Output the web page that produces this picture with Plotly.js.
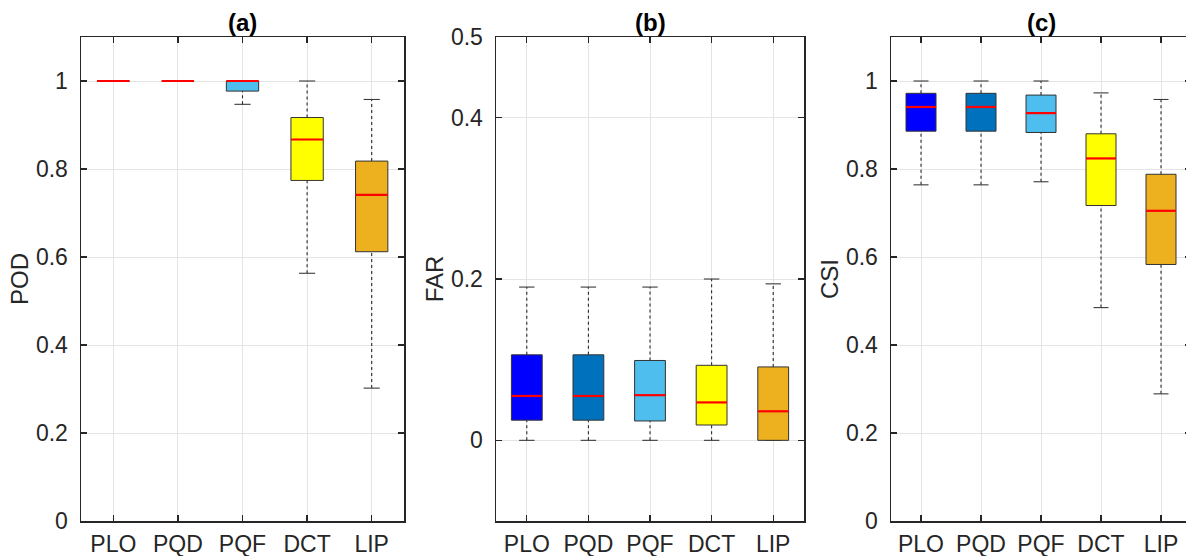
<!DOCTYPE html>
<html>
<head>
<meta charset="utf-8">
<script src="https://cdn.plot.ly/plotly-3.0.1.min.js"></script>
<style>
html,body{margin:0;padding:0;overflow:hidden;background:#fff;}
#chart{width:1200px;height:556px;}
</style>
</head>
<body>
<div id="chart"></div>
<script>
// ---- data ----
const categories = ['PLO', 'PQD', 'PQF', 'DCT', 'LIP'];
const boxColors = ['#0000FF', '#0072BD', '#4DBEEE', '#FFFF00', '#EDB120'];

// (a) POD
const podLo  = [1.000, 1.000, 0.947, 0.563, 0.302];
const podQ1  = [1.000, 1.000, 0.977, 0.774, 0.612];
const podMed = [1.000, 1.000, 1.000, 0.867, 0.741];
const podQ3  = [1.000, 1.000, 1.000, 0.917, 0.818];
const podHi  = [1.000, 1.000, 1.000, 1.000, 0.958];

// (b) FAR
const farLo  = [0.000, 0.000, 0.000, 0.000, 0.000];
const farQ1  = [0.025, 0.025, 0.024, 0.019, 0.000];
const farMed = [0.055, 0.055, 0.056, 0.047, 0.036];
const farQ3  = [0.106, 0.106, 0.099, 0.093, 0.091];
const farHi  = [0.190, 0.190, 0.190, 0.200, 0.194];

// (c) CSI
const csiLo  = [0.764, 0.764, 0.771, 0.485, 0.289];
const csiQ1  = [0.886, 0.886, 0.883, 0.717, 0.583];
const csiMed = [0.941, 0.941, 0.927, 0.824, 0.705];
const csiQ3  = [0.972, 0.972, 0.968, 0.880, 0.788];
const csiHi  = [1.000, 1.000, 1.000, 0.973, 0.958];

const panelTitles = ['(a)', '(b)', '(c)'];
const yTitles = ['POD', 'FAR', 'CSI'];

// ---- styling ----
const W = 1200, H = 556;
const FONT = '"Liberation Sans", Arial, Helvetica, sans-serif';
const AX = '#262626';
const GRID = '#e4e4e4';
const BOX_HALF = 0.25, CAP_HALF = 0.125;

const panels = [
  {lo: podLo, q1: podQ1, med: podMed, q3: podQ3, hi: podHi, xd: [81, 404], yr: [0, 1.1], tv: [0, 0.2, 0.4, 0.6, 0.8, 1]},
  {lo: farLo, q1: farQ1, med: farMed, q3: farQ3, hi: farHi, xd: [496, 804], yr: [-0.1, 0.5], tv: [0, 0.2, 0.4, 0.5]},
  {lo: csiLo, q1: csiQ1, med: csiMed, q3: csiQ3, hi: csiHi, xd: [891, 1191], yr: [0, 1.1], tv: [0, 0.2, 0.4, 0.6, 0.8, 1]}
];

const traces = [];
const layout = {
  width: W, height: H,
  margin: {l: 0, r: 0, t: 0, b: 0},
  paper_bgcolor: '#fff', plot_bgcolor: '#fff',
  showlegend: false,
  font: {family: FONT, color: AX, size: 23},
  annotations: []
};
const yDom = [(H - 521) / H, (H - 37) / H];

panels.forEach((p, k) => {
  const sfx = k === 0 ? '' : String(k + 1);
  const xa = 'x' + sfx, ya = 'y' + sfx;
  const pos = categories.map((c, i) => i + 1);

  // whiskers (dashed)
  const wx = [], wy = [];
  pos.forEach((x, i) => {
    if (p.hi[i] > p.q3[i]) { wx.push(x, x, null); wy.push(p.q3[i], p.hi[i], null); }
    if (p.lo[i] < p.q1[i]) { wx.push(x, x, null); wy.push(p.lo[i], p.q1[i], null); }
  });
  traces.push({type: 'scatter', mode: 'lines', x: wx, y: wy, xaxis: xa, yaxis: ya,
    line: {color: '#2a2a2a', width: 1.1, dash: '3px,3px'}, hoverinfo: 'skip'});

  // caps
  const cx = [], cy = [];
  pos.forEach((x, i) => {
    cx.push(x - CAP_HALF, x + CAP_HALF, null); cy.push(p.hi[i], p.hi[i], null);
    cx.push(x - CAP_HALF, x + CAP_HALF, null); cy.push(p.lo[i], p.lo[i], null);
  });
  traces.push({type: 'scatter', mode: 'lines', x: cx, y: cy, xaxis: xa, yaxis: ya,
    line: {color: '#3a3a3a', width: 1.1}, hoverinfo: 'skip'});

  // boxes
  pos.forEach((x, i) => {
    traces.push({type: 'scatter', mode: 'lines', fill: 'toself', fillcolor: boxColors[i],
      x: [x - BOX_HALF, x + BOX_HALF, x + BOX_HALF, x - BOX_HALF, x - BOX_HALF],
      y: [p.q1[i], p.q1[i], p.q3[i], p.q3[i], p.q1[i]],
      xaxis: xa, yaxis: ya, line: {color: '#333333', width: 1}, hoverinfo: 'skip'});
  });

  // medians
  const mx = [], my = [];
  pos.forEach((x, i) => { mx.push(x - BOX_HALF, x + BOX_HALF, null); my.push(p.med[i], p.med[i], null); });
  traces.push({type: 'scatter', mode: 'lines', x: mx, y: my, xaxis: xa, yaxis: ya,
    line: {color: '#ff0000', width: 2.2}, hoverinfo: 'skip'});

  const common = {
    showline: true, linecolor: AX, linewidth: 1.5, mirror: 'ticks',
    ticks: 'inside', ticklen: 6, tickwidth: 1.3, tickcolor: AX,
    showgrid: true, gridcolor: GRID, gridwidth: 1, zeroline: false,
    tickfont: {family: FONT, size: 23, color: AX}, fixedrange: true
  };
  layout['xaxis' + sfx] = Object.assign({}, common, {
    domain: [p.xd[0] / W, p.xd[1] / W], anchor: ya,
    range: [0.5, 5.5], tickvals: pos, ticktext: categories, ticklabelstandoff: 2
  });
  layout['yaxis' + sfx] = Object.assign({}, common, {
    domain: yDom, anchor: xa, range: p.yr, tickvals: p.tv,
    ticktext: p.tv.map(v => String(v)), ticklabelstandoff: 7,
    title: {text: yTitles[k], font: {family: FONT, size: 24, color: AX}, standoff: 0}
  });
  layout.annotations.push({
    text: '<b>' + panelTitles[k] + '</b>', xref: xa + ' domain', yref: ya + ' domain',
    x: 0.5, y: 1, xanchor: 'center', yanchor: 'bottom', yshift: -1, showarrow: false,
    font: {family: FONT, size: 24, color: '#000'}
  });
});

Plotly.newPlot('chart', traces, layout, {displayModeBar: false, staticPlot: true});
</script>
</body>
</html>
